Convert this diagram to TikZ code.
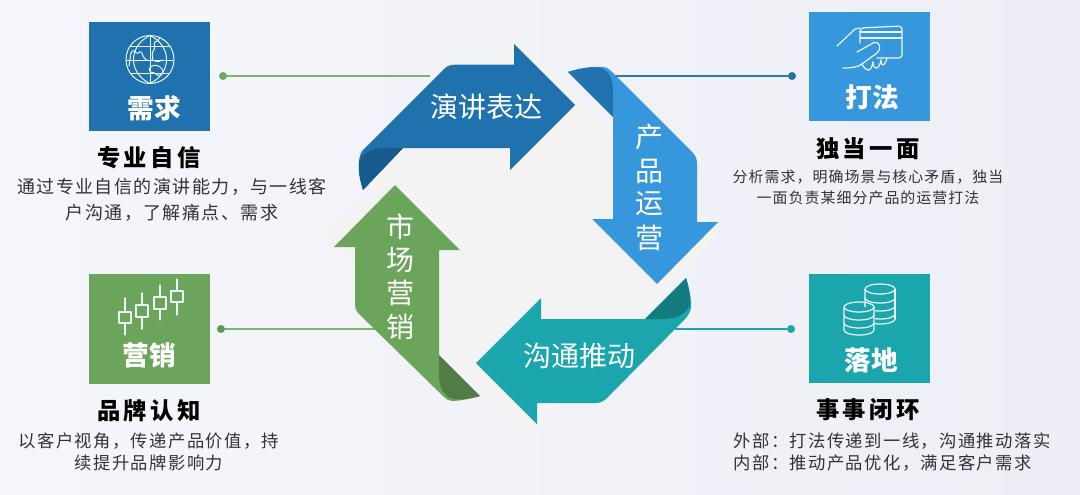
\documentclass[tikz,border=0pt]{standalone}
\usepackage{fontspec}
\setmainfont{Noto Sans CJK SC}
\definecolor{cA}{HTML}{1F72AD}\definecolor{cAd}{HTML}{175A8C}
\definecolor{cB}{HTML}{3797DC}\definecolor{cBd}{HTML}{2071AE}
\definecolor{cC}{HTML}{1BA5AD}\definecolor{cCd}{HTML}{147C80}
\definecolor{cD}{HTML}{6BA45B}\definecolor{cDd}{HTML}{507C45}
\definecolor{lnG}{HTML}{7FB36E}\definecolor{dotG}{HTML}{6FA85F}
\definecolor{dotH}{HTML}{5F9A55}
\definecolor{halo}{HTML}{F3F3F4}\definecolor{txt}{HTML}{333333}
\definecolor{bgL}{HTML}{F5F6FB}\definecolor{bgR}{HTML}{EEEFF6}
\tikzset{
 x=0.75pt,y=-0.75pt,
 card/.style={minimum width=90.75pt,inner sep=0pt,outer sep=0pt,anchor=north west},
 cardlabel/.style={text=white,font=\fontsize{20}{20}\selectfont\bfseries,inner sep=0pt},
 head/.style={text=black,font=\fontsize{17.5}{17.5}\selectfont\bfseries\addfontfeature{LetterSpace=15},inner sep=0pt},
 body/.style={text=txt,inner sep=0pt,align=center},
 arrowlabel/.style={text=white,font=\fontsize{21}{21}\selectfont,inner sep=0pt},
 dotnode/.style={circle,inner sep=0pt,minimum size=6pt},
 link/.style={line width=1pt},
 ico/.style={draw=white!92!cA,line width=0.9pt,line join=round,line cap=round},
}
\newcommand{\bodyA}{\fontsize{13.5}{19.5}\selectfont\addfontfeature{LetterSpace=8}}
\newcommand{\bodyB}{\fontsize{11.2}{15.8}\selectfont\addfontfeature{LetterSpace=7}}
\newcommand{\bodyC}{\fontsize{13}{16.5}\selectfont\addfontfeature{LetterSpace=8}}
\begin{document}
\begin{tikzpicture}
\useasboundingbox (0,0) rectangle (1080,494);
\shade[left color=bgL,right color=bgR] (0,0) rectangle (1080,494);
% halo
\fill[halo,rounded corners=6pt] (515,38) -- (722,232) -- (527,437) -- (323,233) -- cycle;
% connectors
\node[dotnode,fill=dotG] (d1) at (223,76) {};
\node[dotnode,fill=cA] (d2) at (792,76) {};
\node[dotnode,fill=dotH] (d3) at (221,329) {};
\node[dotnode,fill=cC] (d4) at (791,329) {};
\coordinate (e1) at (430,76);
\coordinate (e2) at (610,76);
\coordinate (e3) at (380,329);
\coordinate (e4) at (675,329);
\draw[link,draw=lnG] (d1) -- (e1);
\draw[link,draw=cB!80!black] (d2) -- (e2);
\draw[link,draw=lnG] (d3) -- (e3);
\draw[link,draw=cC] (d4) -- (e4);
% arrow 1
\fill[cA] (575,105) -- (514,44) -- (514,64.7) -- (455,64.7) .. controls (450,64.7) and (447,66) .. (444,69) -- (363,150)
  .. controls (358,155) and (357,170) .. (363,190) -- (403,148) -- (510,148) -- (510,170) -- cycle;
\fill[cAd] (363,190) -- (403,148) -- (385,148) .. controls (372,148) and (360,155) .. (359,162) .. controls (358,172) and (360,180) .. (363,190) -- cycle;
% arrow 2
\fill[cB] (568,72) .. controls (580,68) and (595,66) .. (603,67) .. controls (606,67) and (609,69) .. (612,72) -- (693,153)
  .. controls (696,156) and (697,160) .. (697,164) -- (697,222) -- (718,222) -- (657,284) -- (592,219) -- (613,219) -- (613,117) -- cycle;
\fill[cBd] (568,72) .. controls (580,68) and (595,66) .. (601,68) .. controls (609,71) and (613,80) .. (613,90) -- (613,117) -- cycle;
% arrow 3
\fill[cC] (476,363) -- (541,298) -- (541,319) -- (645,319) -- (686,278) .. controls (690,290) and (692,305) .. (691,308) .. controls (690,312) and (688,316) .. (685,319)
  -- (607,398) .. controls (604,401) and (600,403) .. (596,403) -- (537,403) -- (537,424) -- cycle;
\fill[cCd] (645,319) -- (686,278) .. controls (689,288) and (691,300) .. (690,304) .. controls (688,312) and (678,319) .. (665,319) -- cycle;
% arrow 4
\fill[cD] (395,185) -- (460,250) -- (439,250) -- (439,355) -- (480,396) .. controls (470,399) and (458,401) .. (452,401) .. controls (449,401) and (446,399) .. (444,397)
  -- (358,313) .. controls (356,311) and (355,308) .. (355,305) -- (355,247) -- (334,247) -- cycle;
\fill[cDd] (439,355) -- (480,396) .. controls (470,399) and (458,400) .. (453,399) .. controls (445,397) and (439,388) .. (439,375) -- cycle;
% arrow labels
\node[arrowlabel] (a1) at (486,107) {演讲表达};
\node[arrowlabel] (a2a) at (649,137) {产};
\node[arrowlabel] (a2b) at (649,171) {品};
\node[arrowlabel] (a2c) at (649,204) {运};
\node[arrowlabel] (a2d) at (649,238) {营};
\node[arrowlabel] (a3) at (579,356) {沟通推动};
\node[arrowlabel] (a4a) at (400,227) {市};
\node[arrowlabel] (a4b) at (400,260) {场};
\node[arrowlabel] (a4c) at (400,293) {营};
\node[arrowlabel] (a4d) at (400,327) {销};
% cards
\node[card,fill=cA,minimum height=81.75pt] (c1) at (89,22) {};
\node[card,fill=cB,minimum height=81.75pt] (c2) at (809,12) {};
\node[card,fill=cD,minimum height=82.5pt] (c3) at (89,274) {};
\node[card,fill=cC,minimum height=81.75pt] (c4) at (809,274) {};
\node[cardlabel] (l1) at (154,108) {需求};
\node[cardlabel] (l2) at (872,97) {打法};
\node[cardlabel] (l3) at (149,355) {营销};
\node[cardlabel] (l4) at (871,360) {落地};
% headings
\node[head] (h1) at (149,158) {专业自信};
\node[head] (h2) at (868,149) {独当一面};
\node[head] (h3) at (149,411) {品牌认知};
\node[head] (h4) at (868,410) {事事闭环};
% bodies
\node[body,font=\bodyA] (b1) at (172,200) {通过专业自信的演讲能力，与一线客\\户沟通，了解痛点、需求};
\node[body,font=\bodyB] (b2) at (868,187) {分析需求，明确场景与核心矛盾，独当\\一面负责某细分产品的运营打法};
\node[body,font=\bodyC] (b3) at (149,452) {以客户视角，传递产品价值，持\\续提升品牌影响力};
\node[body,font=\bodyC,align=left] (b4) at (892,452) {外部：打法传递到一线，沟通推动落实\\内部：推动产品优化，满足客户需求};
% globe
\begin{scope}[ico,line width=0.75pt]
\draw (150,59.5) circle[radius=24];
\draw (150,35.5) .. controls (128,46) and (128,73) .. (150,83.5);
\draw (150,35.5) .. controls (172,46) and (172,73) .. (150,83.5);
\draw (150,35.5) -- (150,83.5);
\draw (131,46) -- (169,46); \draw (127,60) -- (173,60); \draw (131,73) -- (169,73);
\draw[rounded corners=1pt] (129,66) -- (131,52) -- (134,50) -- (137,54) -- (141,51) -- (144,58) -- (148,61) -- (153,60) -- (152,53) -- (155,48) -- (154,42) -- (158,41) -- (160,37);
\draw[rounded corners=1pt] (149,68) -- (154,65) -- (159,66) -- (163,70) -- (163,74) -- (158,76) -- (155,73) -- (150,72) -- cycle;
\draw[rounded corners=1pt] (152,60) -- (158,62) -- (162,60);
\end{scope}
% card & hand
\begin{scope}[ico]
\draw[rounded corners=2.5pt] (860,43) -- (860,28) -- (902,26) -- (902,58) -- (877,58);
\draw (860,32) -- (902,32); \draw (860,38) -- (902,38);
\draw (837,46) -- (855,29) -- (860,28);
\draw (857,52) -- (874,42.5) .. controls (880,41) and (882,49) .. (877,53) .. controls (870,58) and (866,61) .. (862,64) .. controls (858,67) and (852,68) .. (843,68);
\draw (862,64) .. controls (866,72) and (871,73) .. (873,62);
\draw (873,62) .. controls (873,70) and (879,71) .. (881,60);
\draw (881,60) .. controls (881,68) and (885,66) .. (887,58);
\end{scope}
% candles
\begin{scope}[ico]
\draw (125,298) -- (125,335); \draw[fill=cD] (119,312) rectangle (131,323);
\draw (142,293) -- (142,329); \draw[fill=cD] (136,305) rectangle (148,317);
\draw (160,285) -- (160,320); \draw[fill=cD] (154,297) rectangle (166,309);
\draw (177,279) -- (177,315); \draw[fill=cD] (171,291) rectangle (183,302);
\end{scope}
% cylinders
\begin{scope}[ico]
\draw (880,289) ellipse[x radius=15,y radius=5];
\draw (865,289) -- (865,319) arc[start angle=180,end angle=0,x radius=15,y radius=5];
\draw (895,319) -- (895,289);
\draw (865,298) arc[start angle=180,end angle=0,x radius=15,y radius=5];
\draw (865,306) arc[start angle=180,end angle=0,x radius=15,y radius=5];
\draw (865,314) arc[start angle=180,end angle=0,x radius=15,y radius=5];
\fill[cC,draw=none] (843,307) rectangle (875,340);
\draw (859,307) ellipse[x radius=15,y radius=5];
\draw (844,307) -- (844,330) arc[start angle=180,end angle=0,x radius=15,y radius=5] -- (874,307);
\draw (844,315) arc[start angle=180,end angle=0,x radius=15,y radius=5];
\draw (844,323) arc[start angle=180,end angle=0,x radius=15,y radius=5];
\end{scope}
\end{tikzpicture}
\end{document}
